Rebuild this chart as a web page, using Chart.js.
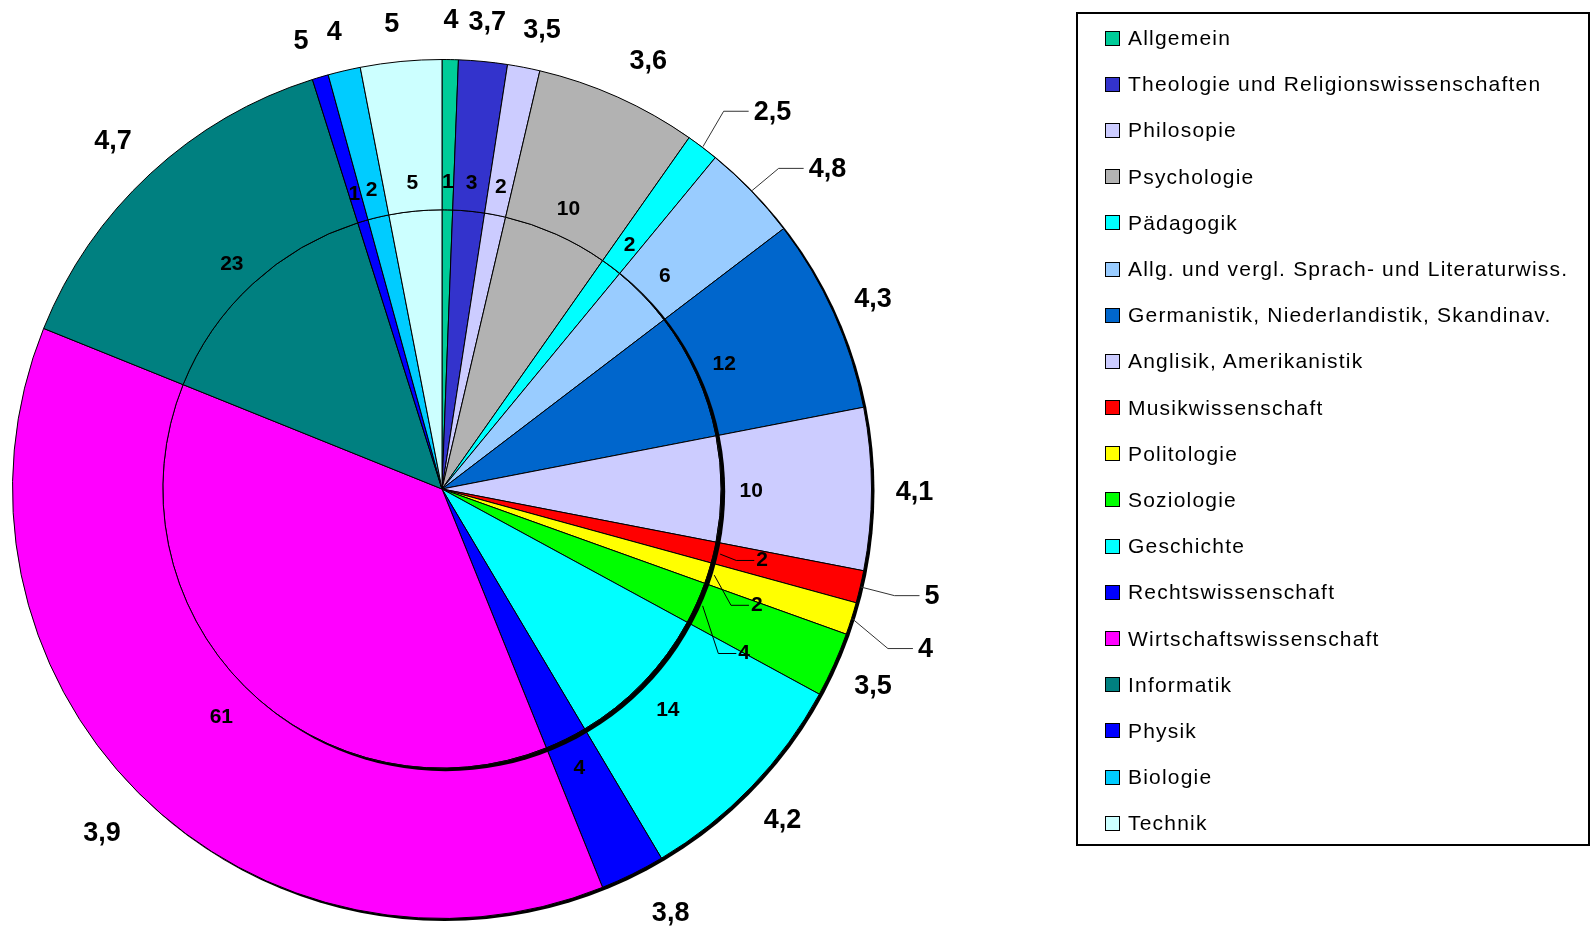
<!DOCTYPE html>
<html>
<head>
<meta charset="utf-8">
<script src="https://cdn.jsdelivr.net/npm/chart.js@4.4.0/dist/chart.umd.min.js"></script>
<style>
    body { margin: 0; background: #fff; }
    #wrap { position: relative; width: 1592px; height: 927px; }
    #grafico { position: absolute; left: 0; top: 0; }
    #legende {
        position: absolute; left: 1076px; top: 12px; width: 514px; height: 834px;
        border: 2px solid #000; box-sizing: border-box; padding: 1px 0 0 27px;
        font-family: "Liberation Sans", Arial, sans-serif; font-size: 21px;
        letter-spacing: 1.2px; color: #000;
    }
    #legende .item { height: 46.2px; display: flex; align-items: center; white-space: nowrap; }
    #legende .box { width: 13px; height: 13px; border: 1px solid #000; margin-right: 8px; flex: none; }
</style>
</head>
<body>
<div id="wrap">
    <canvas id="grafico" width="1592" height="927"></canvas>
    <div id="legende"></div>
</div>
<script>
// -----------------------Daten--------------------------------------------//

var kategorien = ['Allgemein', 'Theologie und Religionswissenschaften', 'Philosopie', 'Psychologie', 'Pädagogik',
    'Allg. und vergl. Sprach- und Literaturwiss.', 'Germanistik, Niederlandistik, Skandinav.', 'Anglisik, Amerikanistik',
    'Musikwissenschaft', 'Politologie', 'Soziologie', 'Geschichte', 'Rechtswissenschaft', 'Wirtschaftswissenschaft',
    'Informatik', 'Physik', 'Biologie', 'Technik'];

var anzahl = [1, 3, 2, 10, 2, 6, 12, 10, 2, 2, 4, 14, 4, 61, 23, 1, 2, 5];

var noten = [4, 3.7, 3.5, 3.6, 2.5, 4.8, 4.3, 4.1, 5, 4, 3.5, 4.2, 3.8, 3.9, 4.7, 5, 4, 5];

var farben = ["#00CC99", "#3333CC", "#CCCCFF", "#B2B2B2", "#00FFFF", "#99CCFF", "#0066CC", "#CCCCFF",
    "#FF0000", "#FFFF00", "#00FF00", "#00FFFF", "#0000FF", "#FF00FF", "#008080", "#0000FF", "#00CCFF", "#CCFFFF"];

// verschobene Beschriftungen; die mit Führungslinie stehen in *Linie
var notenVerschiebung = { 2: [10, 1], 3: [13, 0], 4: [44, -5], 5: [45, 4], 8: [30, -4], 9: [33, 14],
    12: [19, -3], 13: [-6, 6], 14: [-8, -5], 15: [-7, 2], 17: [-5, 2] };
var notenLinie = [4, 5, 8, 9];
var anzahlVerschiebung = { 8: [19, -1], 9: [20, 21], 10: [20, 36], 11: [3, 5], 13: [-2, 8] };
var anzahlLinie = [8, 9, 10];

var schrift = '"Liberation Sans", Arial, sans-serif';

// -----------------------Legende--------------------------------------------//

var legende = document.getElementById('legende');
kategorien.forEach(function (name, i) {
    var item = document.createElement('div');
    item.className = 'item';
    var box = document.createElement('span');
    box.className = 'box';
    box.style.background = farben[i];
    var txt = document.createElement('span');
    txt.textContent = name;
    item.appendChild(box);
    item.appendChild(txt);
    legende.appendChild(item);
});

// -----------------------Plugins--------------------------------------------//

var schatten = {
    id: 'schatten',
    beforeDatasetsDraw: function (chart) {
        var arc = chart.getDatasetMeta(0).data[0];
        var ctx = chart.ctx;
        ctx.save();
        ctx.fillStyle = '#000';
        ctx.beginPath();
        ctx.arc(arc.x + 2.5, arc.y + 2, arc.outerRadius + 0.5, 0, Math.PI * 2);
        ctx.fill();
        ctx.restore();
    },
    afterDatasetsDraw: function (chart) {
        var arc = chart.getDatasetMeta(1).data[0];
        var ctx = chart.ctx;
        ctx.save();
        ctx.beginPath();
        ctx.rect(0, 0, chart.width, chart.height);
        ctx.arc(arc.x, arc.y, arc.outerRadius, 0, Math.PI * 2, true);
        ctx.clip('evenodd');
        ctx.fillStyle = '#000';
        ctx.beginPath();
        ctx.arc(arc.x + 3.5, arc.y + 2.5, arc.outerRadius + 0.5, 0, Math.PI * 2);
        ctx.fill();
        ctx.restore();
    }
};

var beschriftung = {
    id: 'beschriftung',
    afterDatasetsDraw: function (chart) {
        var ctx = chart.ctx;
        var meta = chart.getDatasetMeta(0);
        var werte = chart.data.datasets[0].data;
        ctx.save();
        ctx.fillStyle = '#000';
        ctx.lineWidth = 1;
        ctx.textAlign = 'center';
        ctx.textBaseline = 'middle';
        meta.data.forEach(function (arc, i) {
            var w = (arc.startAngle + arc.endAngle) / 2;
            var c = Math.cos(w), s = Math.sin(w);
            var R = arc.outerRadius;

            // Anzahl
            ctx.font = 'bold 21px ' + schrift;
            var t = String(werte[i]);
            var x = arc.x + c * R * 0.72, y = arc.y + s * R * 0.72 + 2;
            var v = anzahlVerschiebung[i];
            if (v) { x += v[0]; y += v[1]; }
            if (anzahlLinie.indexOf(i) >= 0) {
                var links = x - ctx.measureText(t).width / 2;
                ctx.strokeStyle = '#000';
                ctx.beginPath();
                ctx.moveTo(arc.x + c * R * 0.665, arc.y + s * R * 0.665);
                ctx.lineTo(links - 20, y);
                ctx.lineTo(links - 2, y);
                ctx.stroke();
            }
            ctx.fillText(t, x, y);

            // Note
            ctx.font = 'bold 27px ' + schrift;
            t = String(noten[i]).replace('.', ',');
            x = arc.x + c * R * 1.1; y = arc.y + s * R * 1.1 + 4;
            v = notenVerschiebung[i];
            if (v) { x += v[0]; y += v[1]; }
            if (notenLinie.indexOf(i) >= 0) {
                var l2 = x - ctx.measureText(t).width / 2;
                ctx.strokeStyle = '#333';
                ctx.beginPath();
                ctx.moveTo(arc.x + c * (R + 1), arc.y + s * (R + 1));
                ctx.lineTo(l2 - 30, y - 1);
                ctx.lineTo(l2 - 5, y - 1);
                ctx.stroke();
            }
            ctx.fillText(t, x, y);
        });
        ctx.restore();
    }
};

// -----------------------Grafico--------------------------------------------//

var dados = {
    labels: kategorien,
    datasets: [{
        data: anzahl,
        backgroundColor: farben,
        borderColor: '#000',
        borderWidth: 1,
        weight: 35
    }, {
        data: anzahl,
        backgroundColor: farben,
        borderColor: '#000',
        borderWidth: 1,
        weight: 65
    }]
};

var opcoes = {
    responsive: false,
    animation: false,
    events: [],
    layout: { padding: { left: 12, top: 59, right: 720, bottom: 8 } },
    plugins: {
        legend: { display: false },
        tooltip: { enabled: false }
    }
};

var ctx = document.getElementById("grafico").getContext("2d");
var grafico = new Chart(ctx, {
    type: 'pie',
    data: dados,
    options: opcoes,
    plugins: [schatten, beschriftung]
});
</script>
</body>
</html>
